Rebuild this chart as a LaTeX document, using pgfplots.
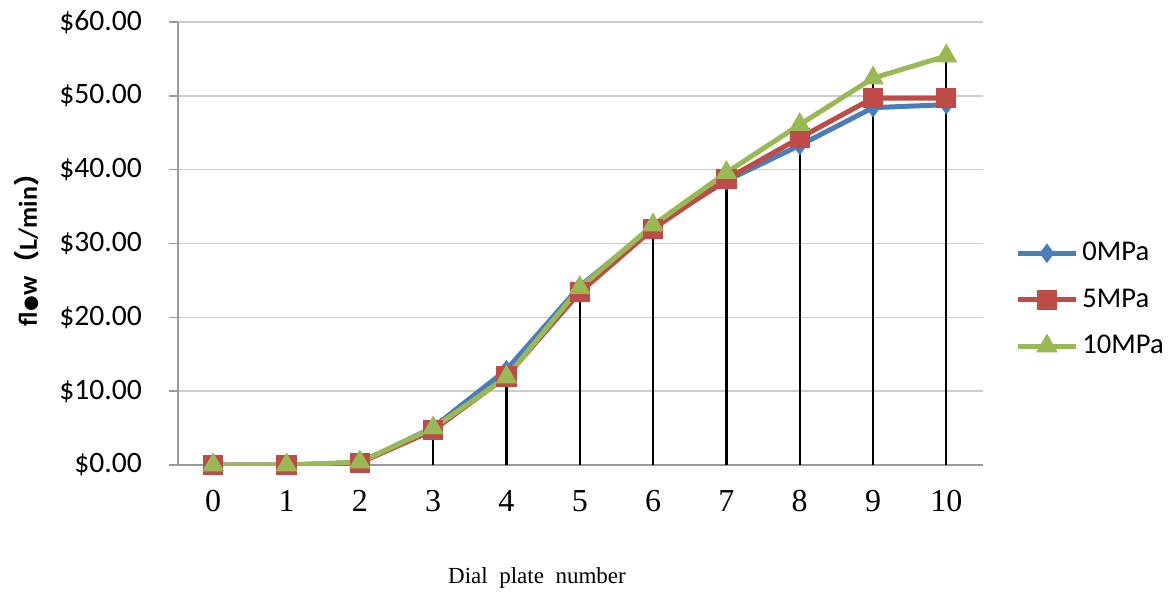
\documentclass[border=0pt]{standalone}
\usepackage{fontspec}
\setmainfont{Carlito}
\newfontfamily\serifTimes{Liberation Serif}
\newfontfamily\dejavu{DejaVu Sans}
\newfontfamily\cjk{Noto Sans CJK SC}
\usepackage{pgfplots}
\pgfplotsset{compat=1.18}
\definecolor{sblue}{HTML}{4A7EBB}
\definecolor{sred}{HTML}{BE4B48}
\definecolor{sgreen}{HTML}{98B954}
\definecolor{gridc}{HTML}{CCCCCC}
\definecolor{axc}{HTML}{9A9A9A}
\begin{document}
\begin{tikzpicture}
\useasboundingbox (-89pt,-63pt) rectangle (496.5pt,232.5pt);
\begin{axis}[
  at={(0,0)}, anchor=south west,
  scale only axis, width=402.5pt, height=221.5pt,
  xmin=-0.48, xmax=10.5, ymin=0, ymax=60,
  axis x line*=bottom, axis y line*=left,
  axis line style={axc, line width=0.7pt},
  ytick={0,10,20,30,40,50,60},
  yticklabels={\$0.00,\$10.00,\$20.00,\$30.00,\$40.00,\$50.00,\$60.00},
  xtick={0,1,2,3,4,5,6,7,8,9,10},
  xticklabels={0,1,2,3,4,5,6,7,8,9,10},
  ymajorgrids, grid style={gridc, line width=0.7pt},
  tick align=outside, major tick length=4.5pt,
  y tick style={axc, line width=0.7pt},
  x tick style={draw=none},
  yticklabel style={font=\fontsize{14.8}{14.8}\selectfont, xshift=-10pt},
  xticklabel style={font=\serifTimes\fontsize{16}{16}\selectfont, yshift=-4.5pt},
  legend style={at={(1.0398,0.5124)}, anchor=north west, draw=none, fill=none,
    font=\fontsize{14.3}{14.3}\selectfont, row sep=8.5pt, inner sep=0pt},
  legend cell align=left,
  legend image code/.code={\draw[mark repeat=2,mark phase=2] plot coordinates {(0pt,0pt) (14.5pt,0pt) (29pt,0pt)};},
]
\addplot[sblue, line width=2.5pt, mark=diamond*, mark size=4.5pt, mark options={solid, line width=0.5pt}]
  coordinates {(0,0)(1,0)(2,0.3)(3,5.1)(4,12.9)(5,24.2)(6,32.3)(7,38.5)(8,43.3)(9,48.4)(10,48.8)};
\addlegendentry{0MPa}
\addplot[sred, line width=2.5pt, mark=square*, mark size=4.8pt, mark options={solid, line width=0.5pt}]
  coordinates {(0,0)(1,0)(2,0.3)(3,4.7)(4,12.0)(5,23.4)(6,32.0)(7,38.7)(8,44.3)(9,49.7)(10,49.7)};
\addlegendentry{5MPa}
\addplot[sgreen, line width=2.5pt, mark=triangle*, mark size=5.8pt, mark options={solid, line width=0.5pt}]
  coordinates {(0,0)(1,0)(2,0.4)(3,5.0)(4,11.9)(5,24.0)(6,32.5)(7,39.6)(8,46.1)(9,52.4)(10,55.4)};
\addlegendentry{10MPa}
\addplot[black, line width=1.1pt, ycomb, mark=none, forget plot]
  coordinates {(3,5.8)(4,13.1)(5,25.0)(6,33.5)(7,40.8)(8,47.2)(9,53.8)(10,55.4)};
\end{axis}
\node[rotate=90, font=\bfseries\fontsize{13}{13}\selectfont] at (-75.5pt,110.75pt)
  {fl{\dejavu\fontsize{9}{9}\selectfont ●}w{\cjk （}L/min{\cjk ）}};
\node[font=\serifTimes\fontsize{11.5}{11.5}\selectfont] at (179.5pt,-56.5pt) {Dial\ \ plate\ \ number};
\end{tikzpicture}
\end{document}
